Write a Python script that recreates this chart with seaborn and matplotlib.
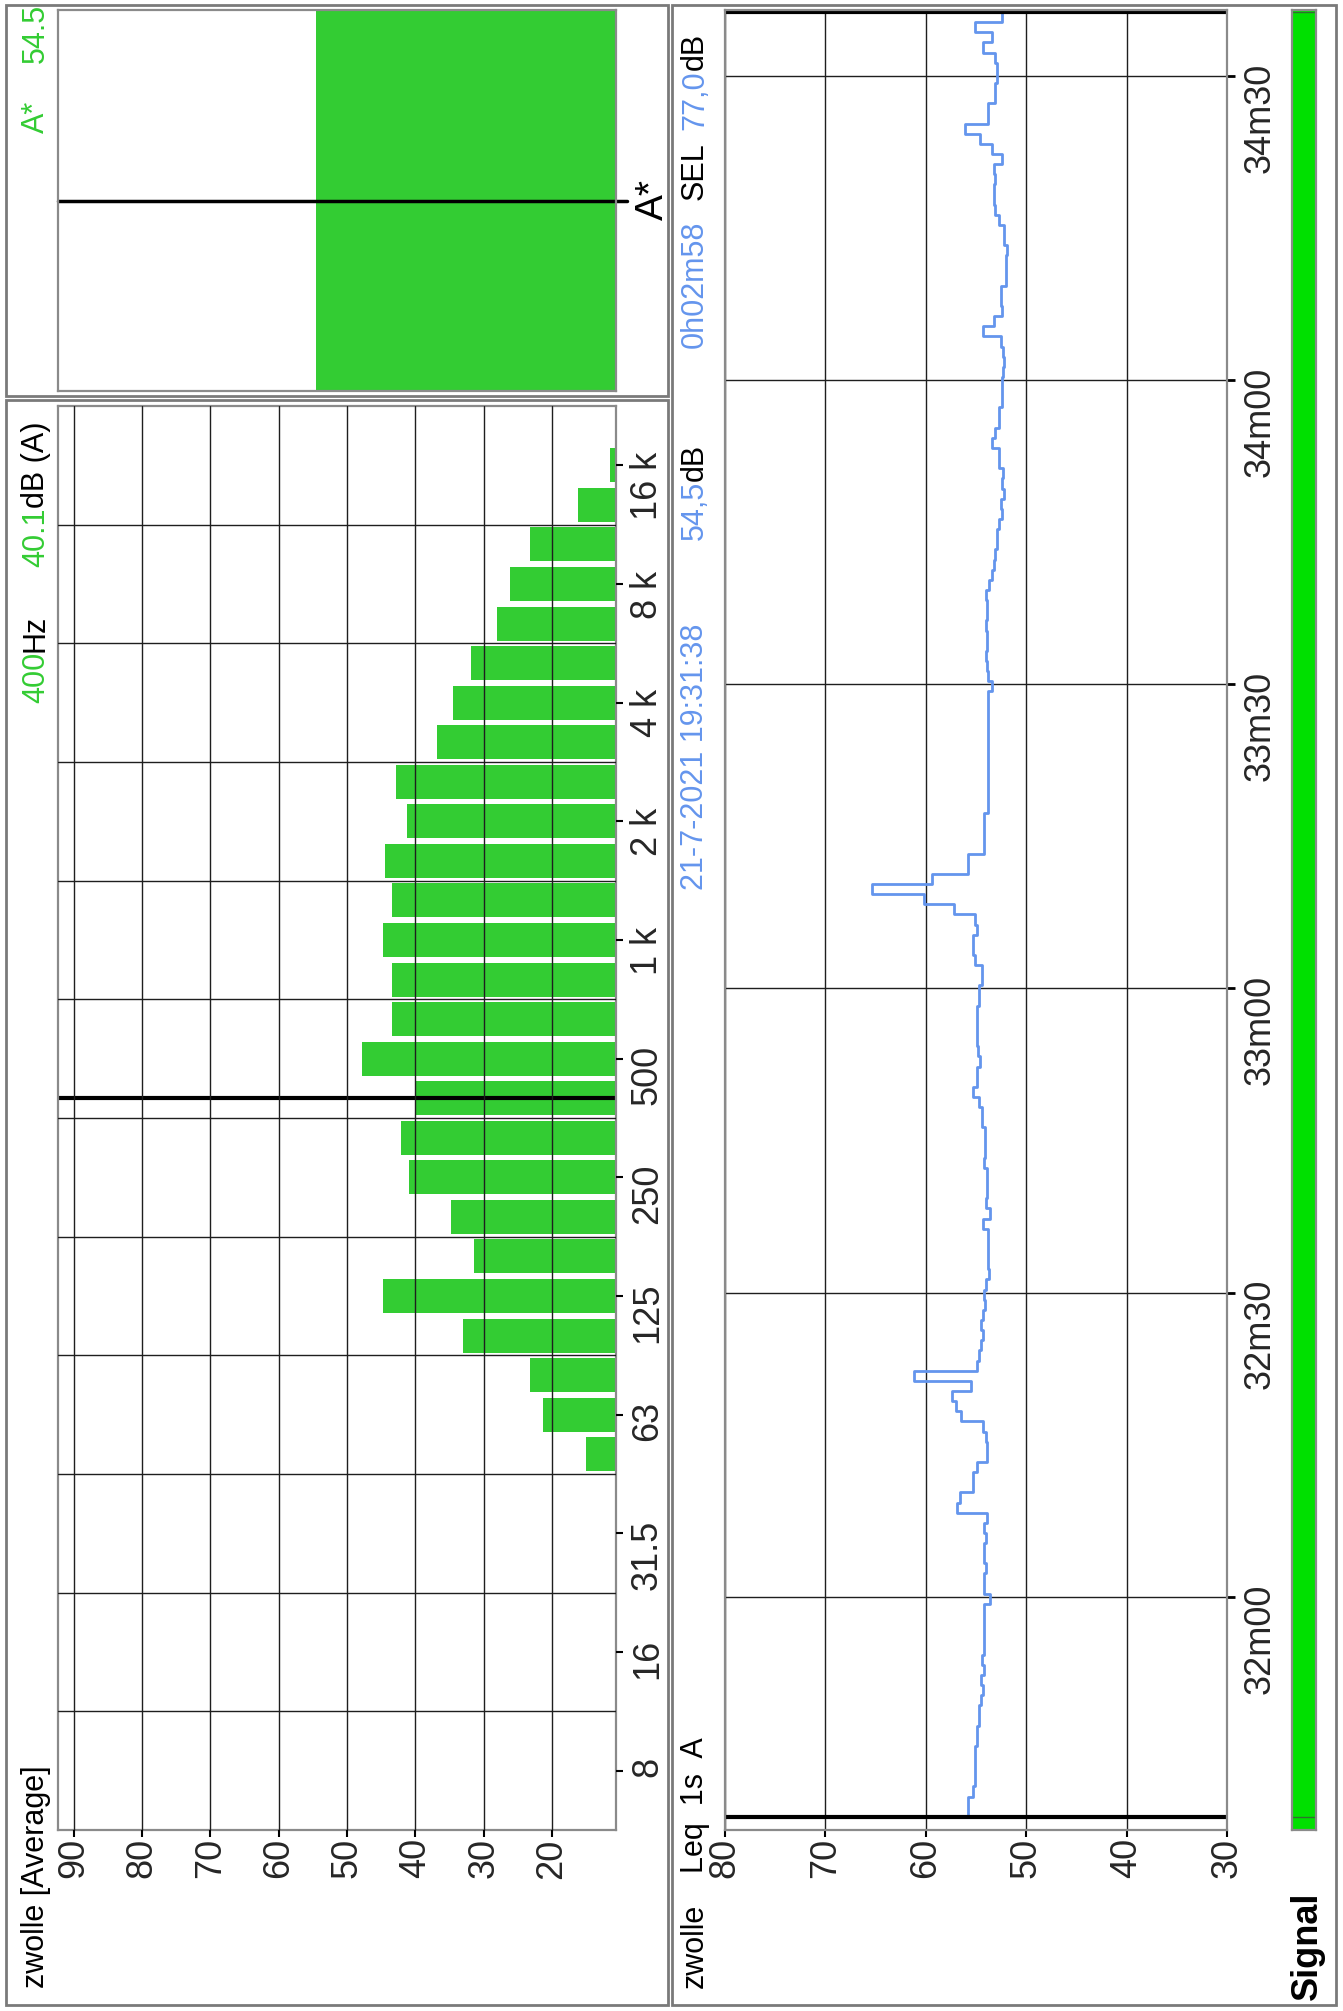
import numpy as np
import pandas as pd
import matplotlib.pyplot as plt
from matplotlib.patches import Rectangle
import seaborn as sns

sns.set_style("white")
plt.rcParams["font.family"] = ["Liberation Sans", "DejaVu Sans"]

GREEN = "#33cc33"
SIGNAL = "#00e000"
BLUE = "#6495ed"
FRAME = "#8a8a8a"
GRID = "#1e1e1e"

# spectrum, 1/3 octave bands (band index 0 = 1 kHz, 3 bands per octave)
band_idx = list(range(-13, 13))  # 50 Hz .. 16 kHz
band_db = [15.1, 21.3, 23.2, 33.0, 44.8, 31.4, 34.8, 41.0, 42.1, 40.1,
           47.8, 43.4, 43.4, 44.8, 43.4, 44.4, 41.3, 42.9, 36.8, 34.5,
           31.8, 28.0, 26.1, 23.2, 16.2, 11.6]
freq_tick_idx = [-21, -18, -15, -12, -9, -6, -3, 0, 3, 6, 9, 12]
freq_tick_lbl = ["8", "16", "31.5", "63", "125", "250", "500",
                 "1 k", "2 k", "4 k", "8 k", "16 k"]
band_edges = [-19.5, -16.5, -13.5, -10.5, -7.5, -4.5, -1.5, 1.5, 4.5, 7.5, 10.5]
spec_db_ticks = [90, 80, 70, 60, 50, 40, 30, 20]
cursor_idx = -4      # 400 Hz
overall_db = 54.5    # A*

# time history, Leq 1s (seconds relative to 32m00, start 19:31:38)
leq_start = -21.7
leq_1s = [55.8, 55.8, 55.3, 55.1, 55.1, 55.1, 55.1, 54.9, 54.9, 54.7,
          54.7, 54.5, 54.3, 54.5, 54.2, 54.4, 54.2, 54.2, 54.2, 54.2,
          54.2, 53.6, 54.2, 54.2, 54.0, 54.2, 54.2, 54.0, 54.2, 53.9,
          56.9, 56.6, 55.3, 55.3, 54.9, 53.9, 53.9, 54.0, 54.3, 56.5,
          57.0, 57.4, 55.5, 61.2, 54.9, 54.7, 54.5, 54.3, 54.5, 54.3,
          54.1, 54.2, 54.0, 53.7, 53.8, 53.8, 53.8, 53.8, 54.3, 53.6,
          54.0, 53.9, 53.9, 53.9, 54.2, 54.1, 54.1, 54.1, 54.4, 54.4,
          54.7, 55.3, 54.9, 54.9, 54.6, 54.8, 54.9, 54.9, 54.9, 54.9,
          54.7, 54.7, 54.4, 54.4, 55.1, 55.3, 55.3, 54.9, 55.1, 57.2,
          60.2, 65.4, 59.4, 55.8, 55.8, 54.2, 54.2, 54.2, 54.2, 53.8,
          53.8, 53.8, 53.8, 53.8, 53.8, 53.8, 53.8, 53.8, 53.8, 53.8,
          53.8, 53.4, 53.8, 53.9, 54.0, 53.9, 53.9, 54.0, 53.9, 53.9,
          54.0, 53.7, 53.4, 53.2, 53.1, 52.9, 52.9, 52.7, 52.4, 52.5,
          52.2, 52.4, 52.3, 52.7, 52.7, 53.4, 53.1, 52.7, 52.7, 52.4,
          52.4, 52.4, 52.3, 52.2, 52.3, 52.5, 54.3, 53.2, 52.4, 52.5,
          52.5, 52.0, 52.0, 52.0, 51.9, 52.2, 52.2, 52.7, 53.1, 53.2,
          53.2, 53.1, 53.2, 52.4, 53.4, 54.6, 56.1, 53.8, 53.8, 53.1,
          53.1, 52.9, 52.9, 53.1, 54.3, 53.4, 55.1, 52.4, 52.4]
time_ticks = [0, 30, 60, 90, 120, 150]
time_lbl = ["32m00", "32m30", "33m00", "33m30", "34m00", "34m30"]
time_db_ticks = [80, 70, 60, 50, 40, 30]

W, H = 1343, 2011
fig = plt.figure(figsize=(W / 100, H / 100), dpi=100)


def rect(x0, y0, x1, y1):
    return [x0 / W, 1 - y1 / H, (x1 - x0) / W, (y1 - y0) / H]


def frame(ax):
    for s in ax.spines.values():
        s.set_visible(True)
        s.set_color(FRAME)
        s.set_linewidth(1.6)


# panel boxes
for x0, y0, x1, y1 in [(6, 5, 668, 396), (6, 400, 668, 2005), (672, 5, 1336, 2005)]:
    fig.add_artist(Rectangle((x0 / W, 1 - y1 / H), (x1 - x0) / W, (y1 - y0) / H,
                             transform=fig.transFigure, fill=False, ec="#7a7a7a", lw=2))

# overall A* bar
ax_a = fig.add_axes(rect(58, 10, 616, 391))
sns.barplot(x=[overall_db], y=[0], orient="y", native_scale=True, width=1.0,
            color=GREEN, saturation=1, errorbar=None, linewidth=0, ax=ax_a)
ax_a.set_xlim(92.3, 10.65)
ax_a.set_ylim(-0.5, 0.5)
ax_a.axhline(0, xmax=1.02, color="black", lw=2.5, clip_on=False)
ax_a.set_xticks([])
ax_a.set_yticks([])
ax_a.set_xlabel("")
ax_a.set_ylabel("")
frame(ax_a)

# spectrum
ax_s = fig.add_axes(rect(58, 406, 616, 1830))
spec = pd.DataFrame({"band": band_idx, "level": band_db})
sns.barplot(data=spec, x="level", y="band", orient="y", native_scale=True, width=0.86,
            color=GREEN, saturation=1, errorbar=None, linewidth=0, ax=ax_s)
ax_s.set_xlim(92.3, 10.65)
ax_s.set_ylim(-22.5, 13.5)
ax_s.set_axisbelow(False)
ax_s.set_xticks(spec_db_ticks, [str(v) for v in spec_db_ticks])
ax_s.yaxis.tick_right()
ax_s.set_yticks(freq_tick_idx, freq_tick_lbl)
ax_s.set_yticks(band_edges, minor=True)
ax_s.grid(True, axis="x", which="major", color=GRID, lw=1)
ax_s.grid(True, axis="y", which="minor", color=GRID, lw=1)
ax_s.grid(False, axis="y", which="major")
ax_s.tick_params(axis="x", which="major", bottom=True, length=5, width=1.5, color="black",
                 pad=1, labelsize=26, labelrotation=90)
ax_s.tick_params(axis="y", which="major", right=True, left=False, length=5, width=1.5,
                 color="black", pad=5, labelsize=26, labelrotation=90)
ax_s.tick_params(axis="y", which="minor", length=0)
ax_s.axhline(cursor_idx, color="black", lw=3)
ax_s.set_xlabel("")
ax_s.set_ylabel("")
frame(ax_s)

# time history
ax_t = fig.add_axes(rect(725, 10, 1227, 1830))
t_sec = leq_start + np.arange(len(leq_1s))
hist = pd.DataFrame({"t": t_sec, "leq": leq_1s})
sns.lineplot(data=hist, x="leq", y="t", orient="y", estimator=None, sort=True,
             drawstyle="steps-pre", color=BLUE, lw=2, ax=ax_t)
ax_t.set_xlim(80, 30)
ax_t.set_ylim(-23.0, 156.5)
ax_t.set_xticks(time_db_ticks, [str(v) for v in time_db_ticks])
ax_t.yaxis.tick_right()
ax_t.set_yticks(time_ticks, time_lbl)
ax_t.grid(True, color=GRID, lw=1)
ax_t.tick_params(axis="x", bottom=True, length=5, width=1.5, color="black",
                 pad=1, labelsize=26, labelrotation=90)
ax_t.tick_params(axis="y", right=True, left=False, length=6, width=2, color="black",
                 pad=5, labelsize=26, labelrotation=90)
ax_t.axhline(t_sec[0], color="black", lw=3)
ax_t.axhline(t_sec[-1], color="black", lw=3)
ax_t.set_xlabel("")
ax_t.set_ylabel("")
frame(ax_t)

# signal strip
ax_g = fig.add_axes(rect(1292, 10, 1316, 1830))
ax_g.set_facecolor(SIGNAL)
ax_g.set_ylim(-23.0, 156.5)
ax_g.axhline(t_sec[0], color="#2f6f2f", lw=1)
ax_g.axhline(t_sec[-1], color="#2f6f2f", lw=1)
ax_g.set_xticks([])
ax_g.set_yticks([])
frame(ax_g)

# rotated texts
ax_txt = fig.add_axes([0, 0, 1, 1])
ax_txt.axis("off")


def vtext(parts, x, y, size=22, weight="normal"):
    kw = dict(fontsize=size, fontweight=weight, rotation=90, rotation_mode="anchor",
              ha="left", va="baseline")
    prev = fig.text(x / W, 1 - y / H, parts[0][0], color=parts[0][1], **kw)
    for s, c in parts[1:]:
        prev = ax_txt.annotate(s, xy=(x / W, 1.0), xycoords=("figure fraction", prev),
                               color=c, **kw)


vtext([("zwolle [Average]", "black")], 44, 1988)
vtext([("400", GREEN), ("Hz", "black")], 44, 703)
vtext([("40.1", GREEN), ("dB (A)", "black")], 44, 567)
vtext([("A*", GREEN)], 44, 133)
vtext([("54.5", GREEN)], 44, 63)
vtext([("A*", "black")], 663, 220, size=28)

vtext([("zwolle", "black")], 703, 1988)
vtext([("Leq  1s  A", "black")], 703, 1873)
vtext([("21-7-2021 19:31:38", BLUE)], 703, 890)
vtext([("54,5", BLUE), ("dB", "black")], 703, 540)
vtext([("0h02m58", BLUE)], 703, 348)
vtext([("SEL", "black")], 703, 200)
vtext([("77,0", BLUE), ("dB", "black")], 703, 130)
vtext([("Signal", "black")], 1317, 2000, size=26, weight="bold")

fig.savefig("out.png", dpi=100)
